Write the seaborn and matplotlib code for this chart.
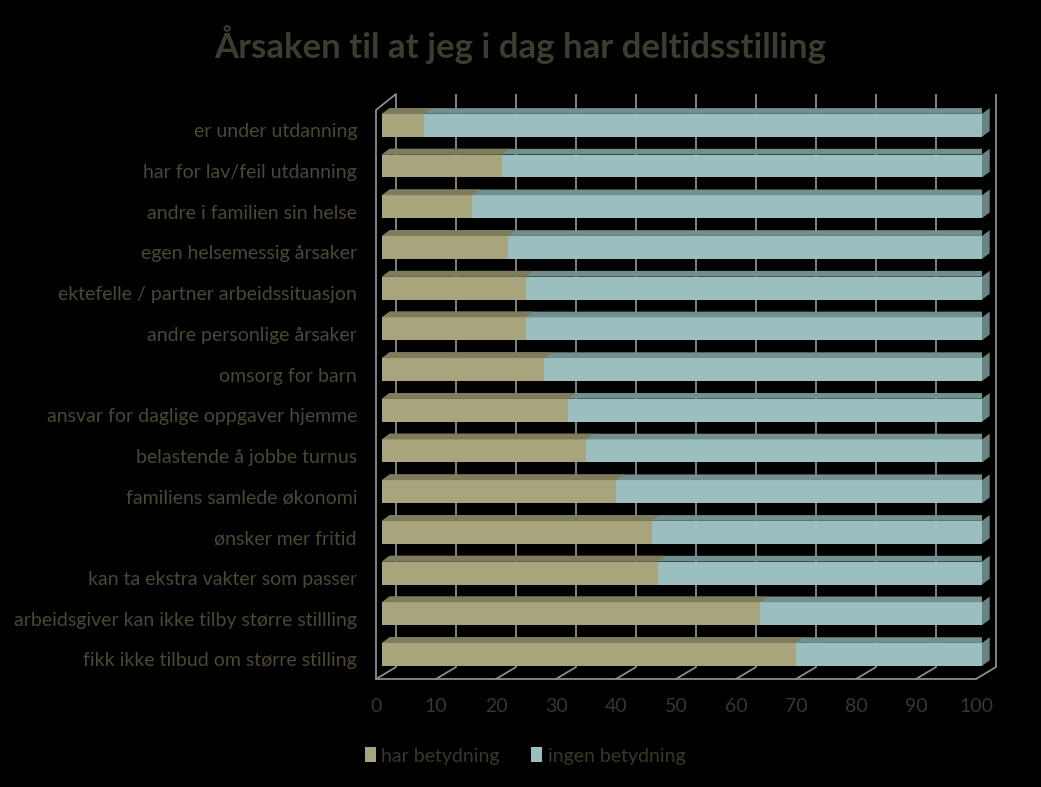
import matplotlib
matplotlib.use("Agg")
import numpy as np
import pandas as pd
import seaborn as sns
import matplotlib.pyplot as plt
from matplotlib.transforms import ScaledTranslation
from matplotlib.patches import Polygon, Patch

# ---------------- data ----------------
categories = [
    "er under utdanning",
    "har for lav/feil utdanning",
    "andre i familien sin helse",
    "egen helsemessig årsaker",
    "ektefelle / partner arbeidssituasjon",
    "andre personlige årsaker",
    "omsorg for barn",
    "ansvar for daglige oppgaver hjemme",
    "belastende å jobbe turnus",
    "familiens samlede økonomi",
    "ønsker mer fritid",
    "kan ta ekstra vakter som passer",
    "arbeidsgiver kan ikke tilby større stillling",
    "fikk ikke tilbud om større stilling",
]
har_betydning = [7, 20, 15, 21, 24, 24, 27, 31, 34, 39, 45, 46, 63, 69]
ingen_betydning = [93, 80, 85, 79, 76, 76, 73, 69, 66, 61, 55, 54, 37, 31]
xticks = [0, 10, 20, 30, 40, 50, 60, 70, 80, 90, 100]
series_names = ["har betydning", "ingen betydning"]
title = "Årsaken til at jeg i dag har deltidsstilling"

# ---------------- style ----------------
C_HAR = "#a8a47b"
C_HAR_TOP = "#7f7c5c"
C_ING = "#9bbfbe"
C_ING_TOP = "#738f8e"
C_SIDE = "#688382"
C_GRID = "#8c8c8c"
C_LABEL = "#4c4636"
C_TICK = "#3a3629"
C_TITLE = "#3e3b30"

sns.set_style("dark")
plt.rcParams["font.family"] = ["Lato", "DejaVu Sans"]

DPI = 100
fig = plt.figure(figsize=(10.41, 7.87), dpi=DPI, facecolor="black")
ax = fig.add_axes([382 / 1041, 108 / 787, 600 / 1041, 585 / 787])
ax.set_facecolor("black")

df = pd.DataFrame({
    "kategori": categories,
    "har": har_betydning,
    "ingen": ingen_betydning,
})
df["total"] = df["har"] + df["ingen"]

BW = 0.565
sns.barplot(data=df, x="total", y="kategori", color=C_ING, saturation=1,
            width=BW, ax=ax, zorder=3, linewidth=0)
n_tot = len(ax.patches)
sns.barplot(data=df, x="har", y="kategori", color=C_HAR, saturation=1,
            width=BW, ax=ax, zorder=4, linewidth=0)

ax.set_xlim(0, 100)
ax.set_ylim(13.604, -0.769)

# 3D faces derived from the bars
DX = 7.7 / 6.0      # data units in x for depth
DY = 5.7 / 40.7     # data units in y for depth
for i, p in enumerate(ax.patches):
    x0, y0 = p.get_x(), p.get_y()
    w, h = p.get_width(), p.get_height()
    top_y = min(y0, y0 + h)
    bot_y = max(y0, y0 + h)
    is_total = i < n_tot
    top_col = C_ING_TOP if is_total else C_HAR_TOP
    ax.add_patch(Polygon([(x0, top_y), (x0 + w, top_y), (x0 + w + DX, top_y - DY),
                          (x0 + DX, top_y - DY)], closed=True, facecolor=top_col,
                         edgecolor="none", zorder=3.5 if is_total else 4.5))
    if is_total:
        ax.add_patch(Polygon([(x0 + w, top_y), (x0 + w + DX, top_y - DY),
                              (x0 + w + DX, bot_y - DY), (x0 + w, bot_y)], closed=True,
                             facecolor=C_SIDE, edgecolor="none", zorder=3.5,
                             clip_on=False))


def shifted(dx_px, dy_px=0):
    return ax.transData + ScaledTranslation(dx_px / DPI, dy_px / DPI, fig.dpi_scale_trans)


Y_TOP_BACK = -0.769
Y_FLOOR_BACK = 13.31
Y_FLOOR_FRONT = 13.604
Y_WALL_FRONT_TOP = -0.376
t_back = shifted(14)
t_front = shifted(-6)
lw = 1.3
for xv in xticks:
    ax.plot([xv, xv], [Y_TOP_BACK, Y_FLOOR_BACK], color=C_GRID, lw=lw,
            transform=t_back, zorder=1, clip_on=False, solid_capstyle="butt")
# floor diagonals
for xv in xticks:
    ax.plot([xv, xv + 20 / 6.0], [Y_FLOOR_FRONT, Y_FLOOR_BACK], color=C_GRID, lw=lw,
            transform=t_front, zorder=1, clip_on=False)
# front floor line
ax.plot([0, 100], [Y_FLOOR_FRONT, Y_FLOOR_FRONT], color=C_GRID, lw=lw,
        transform=t_front, zorder=1, clip_on=False)
# left wall front edge + top diagonal
ax.plot([0, 0, 20 / 6.0], [Y_FLOOR_FRONT, Y_WALL_FRONT_TOP, Y_TOP_BACK], color=C_GRID,
        lw=lw, transform=t_front, zorder=1, clip_on=False)

for s in ax.spines.values():
    s.set_visible(False)
ax.grid(False)
ax.set_xlabel("")
ax.set_ylabel("")
ax.set_xticks(xticks)
ax.set_xticklabels([str(v) for v in xticks])
ax.tick_params(axis="x", length=0, pad=14, labelsize=14, labelcolor=C_TICK)
ax.tick_params(axis="y", length=0, pad=18, labelsize=14, labelcolor=C_LABEL)
for lab in ax.get_xticklabels():
    lab.set_transform(lab.get_transform() + ScaledTranslation(-6 / DPI, 0, fig.dpi_scale_trans))
for lab in ax.get_yticklabels():
    lab.set_transform(lab.get_transform() + ScaledTranslation(0, -5 / DPI, fig.dpi_scale_trans))

fig.text(0.5, 1 - 45 / 787, title, ha="center", va="center", fontsize=25,
         fontweight="bold", color=C_TITLE)

handles = [Patch(facecolor=C_HAR, edgecolor="none"), Patch(facecolor=C_ING, edgecolor="none")]
fig.legend(handles, series_names, loc="center", bbox_to_anchor=(525 / 1041, 1 - 756 / 787),
           ncol=2, frameon=False, fontsize=14, labelcolor=C_TICK,
           handlelength=0.55, handleheight=0.8, handletextpad=0.3, columnspacing=1.6)

fig.savefig("out.png", dpi=DPI, facecolor="black")
